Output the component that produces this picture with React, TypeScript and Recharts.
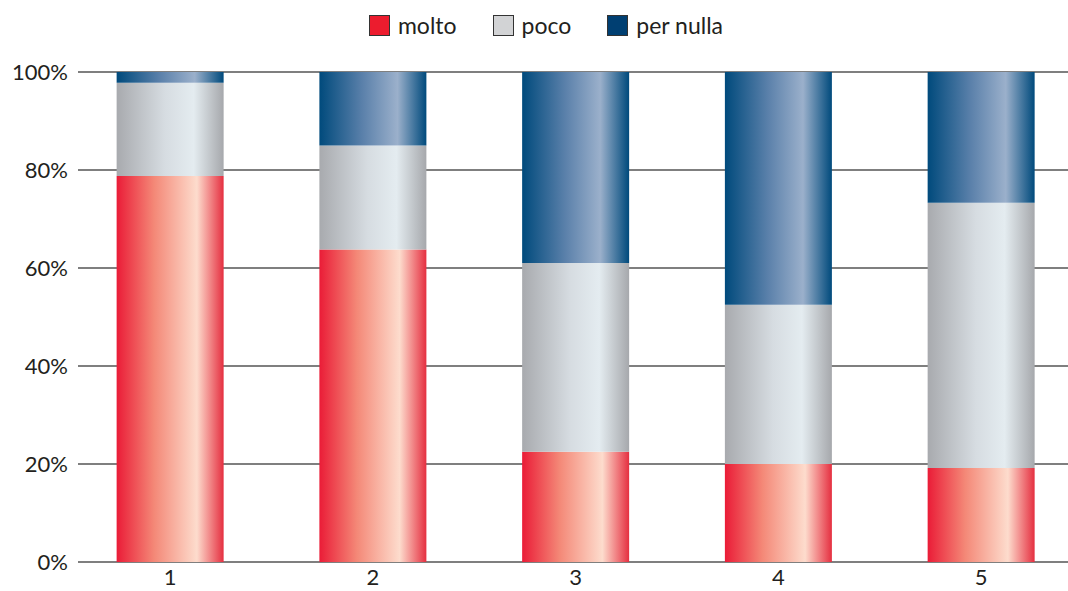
import React from "react";
import { BarChart, Bar, XAxis, YAxis, CartesianGrid, Legend } from "recharts";

// Categories along the x axis and their positions on the numeric axis
const categories = ["1", "2", "3", "4", "5"];
const positions = [1, 2, 3, 4, 5];

// Shares (%) for each response, stacked to 100
const molto = [78.8, 63.8, 22.5, 20.0, 19.2];
const poco = [19.0, 21.2, 38.5, 32.5, 54.1];
const perNulla = [2.2, 15.0, 39.0, 47.5, 26.7];

const yTicks = [0, 20, 40, 60, 80, 100];

const data = categories.map((c, i) => ({
  name: c,
  pos: positions[i],
  molto: molto[i],
  poco: poco[i],
  perNulla: perNulla[i],
}));

const FONT = "Lato, 'Open Sans', sans-serif";

const legendItems = [
  { label: "molto", color: "#ec1c2e" },
  { label: "poco", color: "#d2d3d5" },
  { label: "per nulla", color: "#003f72" },
];

const renderLegend = () => (
  <div
    style={{
      height: 40,
      display: "flex",
      justifyContent: "center",
      alignItems: "center",
      gap: 36,
      fontFamily: FONT,
      fontSize: 23,
      color: "#231f20",
      paddingLeft: 24,
    }}
  >
    {legendItems.map((it) => (
      <div key={it.label} style={{ display: "flex", alignItems: "center" }}>
        <span
          style={{
            display: "inline-block",
            width: 19,
            height: 19,
            background: it.color,
            border: "1px solid #333",
            marginRight: 8,
          }}
        />
        <span>{it.label}</span>
      </div>
    ))}
  </div>
);

export default function App() {
  return (
    <div style={{ position: "absolute", left: 0, top: 0 }}>
      <BarChart
        width={1068}
        height={591}
        data={data}
        margin={{ top: 32, right: 0, bottom: 0, left: 0 }}
      >
        <defs>
          <linearGradient id="gMolto" x1="0" y1="0" x2="1" y2="0">
            <stop offset="0%" stopColor="#ea1c37" />
            <stop offset="35%" stopColor="#f48877" />
            <stop offset="75%" stopColor="#fddccd" />
            <stop offset="100%" stopColor="#e52f40" />
          </linearGradient>
          <linearGradient id="gPoco" x1="0" y1="0" x2="1" y2="0">
            <stop offset="0%" stopColor="#a8aaae" />
            <stop offset="45%" stopColor="#d6dce1" />
            <stop offset="72%" stopColor="#e4ecf0" />
            <stop offset="100%" stopColor="#a6a8ac" />
          </linearGradient>
          <linearGradient id="gNulla" x1="0" y1="0" x2="1" y2="0">
            <stop offset="0%" stopColor="#004a7c" />
            <stop offset="40%" stopColor="#5a80aa" />
            <stop offset="73%" stopColor="#9bb0cb" />
            <stop offset="100%" stopColor="#004a7c" />
          </linearGradient>
        </defs>
        <Legend verticalAlign="top" content={renderLegend} wrapperStyle={{ top: 5 }} />
        <CartesianGrid vertical={false} stroke="#555" strokeWidth={1.5} />
        <XAxis
          type="number"
          dataKey="pos"
          domain={[0.5462, 5.429]}
          ticks={positions}
          allowDataOverflow
          tickFormatter={(v: number) => categories[positions.indexOf(v)] ?? ""}
          axisLine={false}
          tickLine={false}
          height={29}
          tickMargin={1}
          tick={{ fontFamily: FONT, fontSize: 22, fill: "#231f20" }}
        />
        <YAxis
          type="number"
          domain={[0, 100]}
          ticks={yTicks}
          tickFormatter={(v: number) => `${v}%`}
          axisLine={false}
          tickLine={false}
          width={78}
          tickSize={8}
          tickMargin={2}
          tick={{ fontFamily: FONT, fontSize: 22, fill: "#231f20" }}
        />
        <Bar dataKey="molto" stackId="s" fill="url(#gMolto)" barSize={107} isAnimationActive={false} />
        <Bar dataKey="poco" stackId="s" fill="url(#gPoco)" barSize={107} isAnimationActive={false} />
        <Bar dataKey="perNulla" stackId="s" fill="url(#gNulla)" barSize={107} isAnimationActive={false} />
      </BarChart>
    </div>
  );
}
